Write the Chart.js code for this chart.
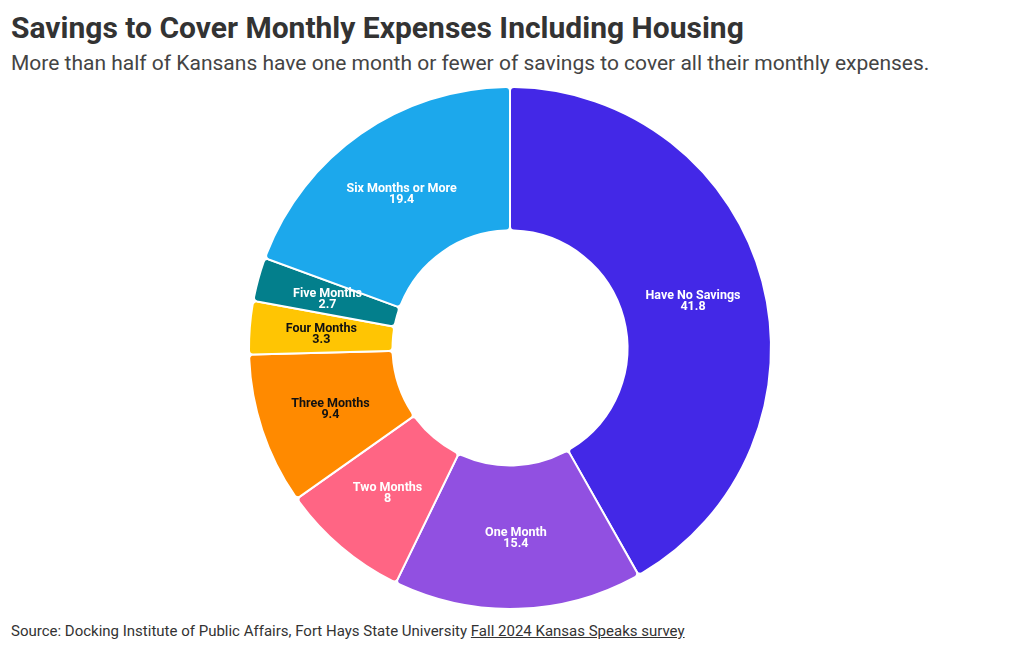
<!DOCTYPE html>
<html>
<head>
<meta charset="utf-8">
<script src="https://cdn.jsdelivr.net/npm/chart.js"></script>
<style>
  body { margin: 0; background: #fff; font-family: Roboto, "Liberation Sans", sans-serif; color: #333; }
  .title { position: absolute; left: 11px; top: 10px; font-size: 30px; font-weight: bold; color: #333; }
  .subtitle { position: absolute; left: 11px; top: 51px; font-size: 21px; color: #444; }
  .chart-box { position: absolute; left: 0; top: 86px; width: 1020px; height: 524px; }
  .source { position: absolute; left: 11px; top: 622px; font-size: 15px; color: #333; }
  .source a { color: #333; }
</style>
</head>
<body>
<div class="title">Savings to Cover Monthly Expenses Including Housing</div>
<div class="subtitle">More than half of Kansans have one month or fewer of savings to cover all their monthly expenses.</div>
<div class="chart-box"><canvas id="mainChart"></canvas></div>
<div class="source">Source: Docking Institute of Public Affairs, Fort Hays State University <a href="#">Fall 2024 Kansas Speaks survey</a></div>
<script>
const categories = ['Have No Savings', 'One Month', 'Two Months', 'Three Months', 'Four Months', 'Five Months', 'Six Months or More'];
const shares = [41.8, 15.4, 8, 9.4, 3.3, 2.7, 19.4];
const sliceColors = ['#4328e7', '#9150e1', '#ff6584', '#ff8a00', '#ffc503', '#037f8c', '#1ca8ec'];
const labelColors = ['#fff', '#fff', '#fff', '#111', '#111', '#fff', '#fff'];

const sliceLabels = {
  id: 'sliceLabels',
  afterDatasetsDraw(chart) {
    const ctx = chart.ctx;
    const meta = chart.getDatasetMeta(0);
    ctx.save();
    ctx.textAlign = 'center';
    ctx.textBaseline = 'middle';
    ctx.font = 'bold 12.5px Roboto, "Liberation Sans", sans-serif';
    meta.data.forEach(function(arc, i) {
      const p = arc.tooltipPosition();
      ctx.fillStyle = labelColors[i];
      ctx.fillText(categories[i], p.x, p.y - 4);
      ctx.fillText(String(shares[i]), p.x, p.y + 7);
    });
    ctx.restore();
  }
};

document.addEventListener('DOMContentLoaded', function() {
  new Chart(document.getElementById('mainChart'), {
    type: 'doughnut',
    data: {
      labels: categories,
      datasets: [{
        data: shares,
        backgroundColor: sliceColors,
        borderColor: '#fff',
        borderWidth: 2,
        borderRadius: 4
      }]
    },
    options: {
      responsive: true,
      maintainAspectRatio: false,
      animation: false,
      cutout: '45%',
      layout: { padding: 0 },
      plugins: {
        legend: { display: false },
        tooltip: { enabled: false }
      }
    },
    plugins: [sliceLabels]
  });
});
</script>
</body>
</html>
